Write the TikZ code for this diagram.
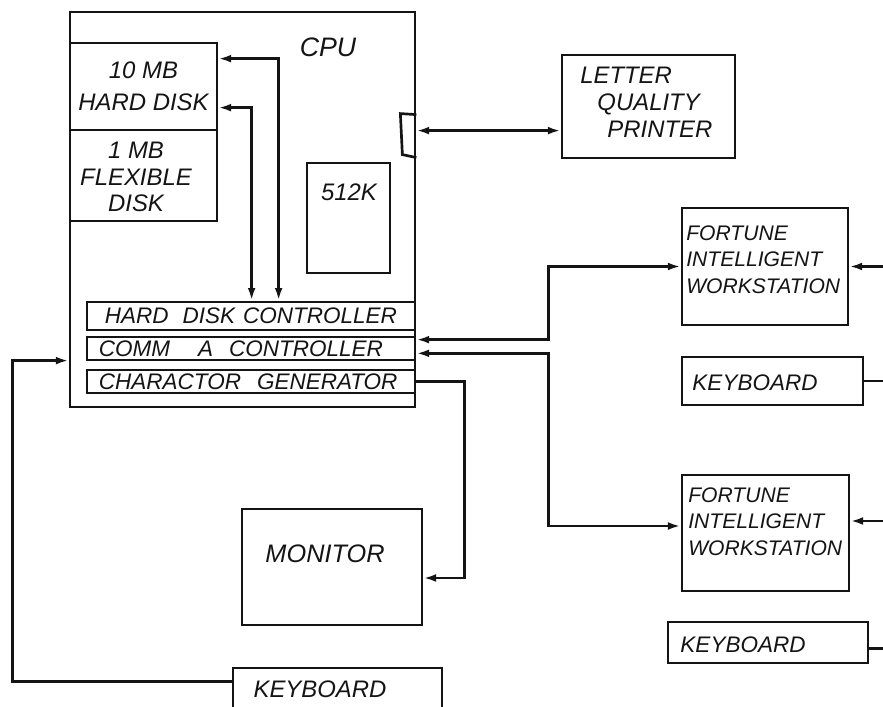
\documentclass[tikz,border=0pt]{standalone}
\usepackage{fontspec}
\setmainfont{Liberation Sans}
\usetikzlibrary{arrows.meta,calc,positioning}

\newcommand{\handfont}[2]{\itshape\fontsize{#1pt}{#2pt}\selectfont}

\tikzset{
  box/.style={draw=ink, line width=1.9pt, inner sep=0pt},
  strip/.style={box, text width=7.6cm, inner xsep=0.3cm, inner ysep=0pt, align=left, font=\handfont{16}{19}, text=ink},
  hand/.style={inner sep=0pt, align=left, text=ink},
  wire/.style={ink, line width=1.9pt},
  arr/.style={wire, -{Latex[length=9pt,width=5.5pt]}},
  dblarr/.style={wire, {Latex[length=9pt,width=5.5pt]}-{Latex[length=9pt,width=5.5pt]}}
}

\begin{document}
\begin{tikzpicture}[x=0.025cm, y=-0.025cm]
    % Define colors
    \definecolor{ink}{RGB}{20,20,20}

    \useasboundingbox (0,0) rectangle (883,707);
    \clip (0,0) rectangle (883,707);

    % CPU
    \node[box, minimum width=8.625cm, minimum height=9.875cm] (cpu) at (242.5,209.5) {};
    \node[hand, font=\handfont{19}{22}] (cpulbl) at (328,47) {CPU};

    % Disks and memory
    \node[box, minimum width=3.675cm, minimum height=2.175cm, align=center, font=\handfont{17}{23}, text=ink] (hd) at (143.5,86.5) {10 MB\\HARD DISK};
    \node[box, minimum width=3.675cm, minimum height=2.275cm] (fd) at (143.5,175.5) {};
    \node[hand, align=center, font=\handfont{17}{19}] (fdtxt) at (136,177) {1 MB\\FLEXIBLE\\DISK};
    \node[box, minimum width=2.075cm, minimum height=2.75cm] (ram) at (348.5,218) {};
    \node[hand, font=\handfont{17}{20}] (ramtxt) at (349,192) {512K};

    % Controllers
    \node[strip, minimum height=0.7cm] (hdc) at (251,316) {\hspace*{0.15cm}HARD\hspace{0.35cm}DISK\hspace{0.2cm}CONTROLLER};
    \node[strip, minimum height=0.575cm] (comm) at (251,348.5) {COMM\hspace{0.7cm}A\hspace{0.4cm}CONTROLLER};
    \node[strip, minimum height=0.575cm] (chg) at (251,381.5) {CHARACTOR\hspace{0.4cm}GENERATOR};

    % Printer port
    \draw[wire] ($(cpu.north east)+(0,104)$) -- ++(-16,-1) -- ++(2,41) -- ++(14,3);
    \coordinate (port) at ($(cpu.north east)+(0,120)$);

    % Peripherals
    \node[box, minimum width=4.325cm, minimum height=2.575cm] (prn) at (648.5,106.5) {};
    \node[hand, anchor=north west, font=\handfont{17}{19}] (prntxt) at (580,67) {LETTER\\\hspace*{0.43cm}QUALITY\\\hspace*{0.68cm}PRINTER};

    \node[box, minimum width=4.15cm, minimum height=2.925cm] (ws1) at (765,266.5) {};
    \node[hand, anchor=north west, font=\handfont{15}{19}] (ws1txt) at (686,225) {FORTUNE\\INTELLIGENT\\WORKSTATION};
    \node[box, minimum width=4.525cm, minimum height=1.2cm] (kb1) at (772.5,381) {};
    \node[hand, font=\handfont{16}{19}] (kb1txt) at (755,383) {KEYBOARD};

    \node[box, minimum width=4.175cm, minimum height=2.9cm] (ws2) at (765.5,533) {};
    \node[hand, anchor=north west, font=\handfont{15}{19}] (ws2txt) at (688,487) {FORTUNE\\INTELLIGENT\\WORKSTATION};
    \node[box, minimum width=5cm, minimum height=1.025cm] (kb2) at (768,642.5) {};
    \node[hand, font=\handfont{16}{19}] (kb2txt) at (743,645) {KEYBOARD};

    \node[box, minimum width=4.5cm, minimum height=2.9cm] (mon) at (332,567) {};
    \node[hand, font=\handfont{18}{21}] (montxt) at (325,554) {MONITOR};
    \node[box, minimum width=5.225cm, minimum height=1.35cm] (kb0) at (337.5,695) {};
    \node[hand, font=\handfont{17}{20}] (kb0txt) at (320,689) {KEYBOARD};

    % Disk bus
    \draw[dblarr] ($(hd.north east)+(0,17)$) -| ($(hdc.north west)+(193,0)$);
    \draw[dblarr] ($(hd.north east)+(0,66)$) -| ($(hdc.north west)+(166,0)$);

    % Printer line
    \draw[dblarr] (port) -- (prn.west |- port);

    % Comm lines
    \draw[dblarr] ($(comm.north east)+(0,4)$) -- ++(132,0) |- (ws1.west);
    \draw[dblarr] ($(comm.south east)+(0,-8)$) -- ++(132,0) |- ($(ws2.west)+(0,-7)$);

    % Video and console keyboard
    \draw[arr] (chg.east) -- ++(48,0) |- ($(mon.east)+(0,11)$);
    \draw[arr] ($(kb0.north west)+(0,15)$) -- ++(-219,0) |- ($(cpu.north west)+(0,350)$);

    % Lines leaving to the right
    \foreach \n/\dy in {ws1/0, ws2/-12}
        \draw[arr] ($(\n.east)+(40,\dy)$) -- ($(\n.east)+(0,\dy)$);
    \foreach \n/\dy in {kb1/0, kb2/6}
        \draw[wire] ($(\n.east)+(0,\dy)$) -- ++(30,0);

\end{tikzpicture}
\end{document}
